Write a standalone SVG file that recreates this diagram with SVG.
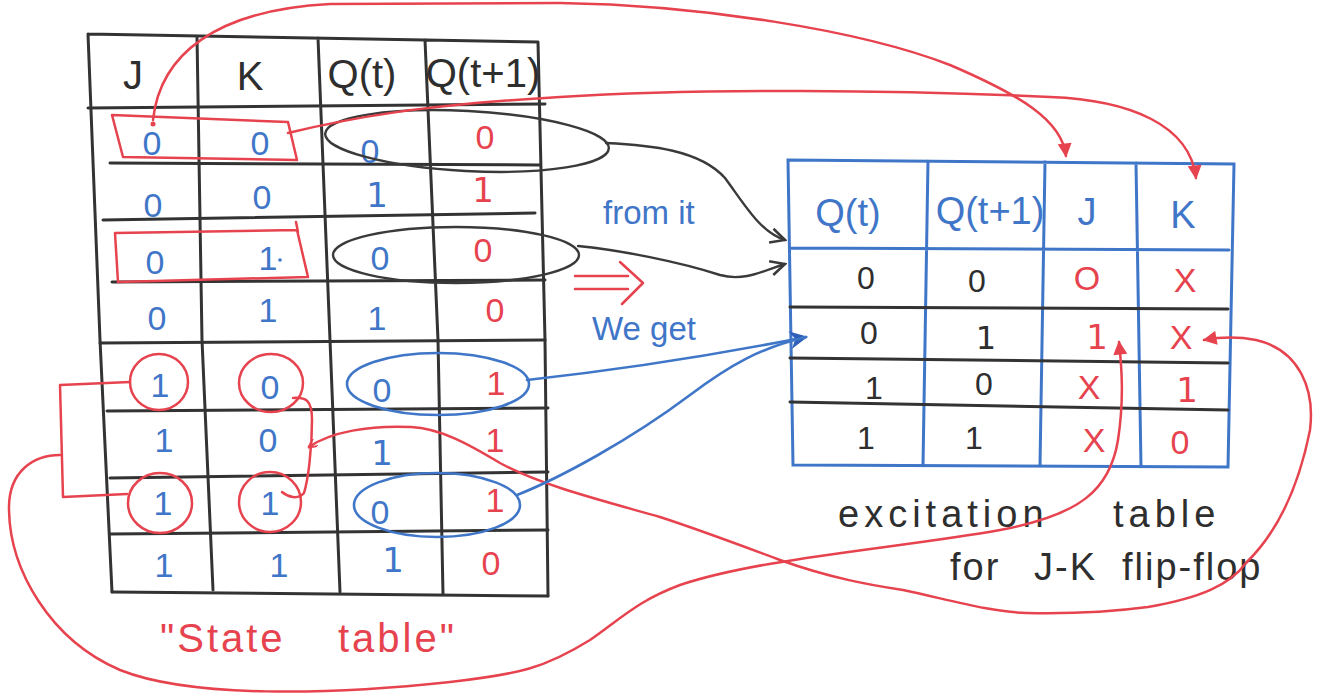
<svg xmlns="http://www.w3.org/2000/svg" width="1324" height="698" viewBox="0 0 1324 698">
  <defs>
    <style>
      .grid { fill: none; stroke: #333; stroke-width: 3; stroke-linecap: round; stroke-linejoin: round; }
      .bgrid { fill: none; stroke: #3f76c8; stroke-width: 3; stroke-linecap: round; }
      .red { fill: none; stroke: #e6434f; stroke-width: 2.5; stroke-linecap: round; stroke-linejoin: round; }
      .blue { fill: none; stroke: #3f76c8; stroke-width: 2.6; stroke-linecap: round; }
      .ink { fill: none; stroke: #3a3a3a; stroke-width: 2.4; stroke-linecap: round; }
      text { font-family: "Liberation Sans", "DejaVu Sans", sans-serif; text-anchor: middle; }
      .hd { font-size: 40px; fill: #2e2e2e; }
      .hdb { font-size: 38px; fill: #3f76c8; }
      .vb { font-size: 34px; fill: #3f76c8; }
      .vr { font-size: 34px; fill: #e6434f; }
      .vk { font-size: 32px; fill: #2e2e2e; }
      .base1 { font-family: "DejaVu Sans", sans-serif; }
      .note { font-size: 33px; fill: #3f76c8; text-anchor: start; }
      .cap { font-size: 38px; fill: #2e2e2e; text-anchor: start; letter-spacing: 5px; }
      .cap2 { font-size: 38px; fill: #2e2e2e; text-anchor: start; letter-spacing: 2px; }
      .capr { font-size: 40px; fill: #e6434f; text-anchor: start; letter-spacing: 3px; }
    </style>
    <marker id="redHead" viewBox="0 0 10 10" refX="9" refY="5" markerWidth="16" markerHeight="14" markerUnits="userSpaceOnUse" orient="auto">
      <path d="M0,0 L10,5 L0,10 Z" fill="#e6434f"/>
    </marker>
    <marker id="redTip" viewBox="0 0 10 10" refX="9" refY="5" markerWidth="10" markerHeight="9" markerUnits="userSpaceOnUse" orient="auto-start-reverse">
      <path d="M0,0 L10,5 L0,10" fill="none" stroke="#e6434f" stroke-width="2"/>
    </marker>
    <marker id="inkHead" viewBox="0 0 10 10" refX="9" refY="5" markerWidth="18" markerHeight="18" markerUnits="userSpaceOnUse" orient="auto">
      <path d="M1,1 L9,5 L1,9" fill="none" stroke="#3a3a3a" stroke-width="1.4"/>
    </marker>
    <marker id="blueHead" viewBox="0 0 10 10" refX="9" refY="5" markerWidth="24" markerHeight="18" markerUnits="userSpaceOnUse" orient="auto">
      <path d="M0,0 L10,5 L0,10 L3,5 Z" fill="#2f5fb8"/>
    </marker>
  </defs>

  <rect width="1324" height="698" fill="#ffffff"/>

  <!-- state table -->
  <g id="state-table">
    <path class="grid" d="M88,34 L538,42 M88,34 L100,340 L112,592 M197,36 L202,340 L213,590 M318,38 L330,340 L340,592 M425,40 L438,340 L443,594 M538,42 L545,340 L548,596"/>
    <path class="grid" d="M88,108 L545,104 M110,163 L540,165 M103,220 L535,213 M112,282 L545,280 M100,343 L545,340 M107,411 L548,408 M110,478 L548,472 M110,534 L548,530 M112,592 L548,596"/>
    <text class="hd" x="133" y="89">J</text>
    <text class="hd" x="250" y="90">K</text>
    <text class="hd" x="362" y="88" font-size="35">Q(t)</text>
    <text class="hd" x="483" y="87" font-size="31">Q(t+1)</text>

    <!-- rows 1-4 -->
    <text class="vb" x="152" y="155">0</text>
    <text class="vb" x="260" y="155">0</text>
    <text class="vb" x="370" y="163">0</text>
    <text class="vr" x="485" y="149">0</text>

    <text class="vb" x="153" y="217">0</text>
    <text class="vb" x="262" y="209">0</text>
    <text class="vb base1" x="377" y="207">1</text>
    <text class="vr base1" x="483" y="202">1</text>

    <text class="vb" x="155" y="274">0</text>
    <text class="vb" x="268" y="270">1</text>
    <circle cx="280" cy="260" r="1.8" fill="#3f76c8"/>
    <text class="vb" x="380" y="270">0</text>
    <text class="vr" x="483" y="262">0</text>

    <text class="vb" x="157" y="330">0</text>
    <text class="vb" x="268" y="322">1</text>
    <text class="vb" x="377" y="330">1</text>
    <text class="vr" x="495" y="322">0</text>

    <!-- rows 5-8 -->
    <text class="vb" x="160" y="397">1</text>
    <text class="vb" x="270" y="399">0</text>
    <text class="vb" x="382" y="402">0</text>
    <text class="vr" x="496" y="395">1</text>

    <text class="vb" x="164" y="452">1</text>
    <text class="vb" x="268" y="452">0</text>
    <text class="vb base1" x="382" y="465">1</text>
    <text class="vr" x="495" y="452">1</text>

    <text class="vb" x="163" y="515">1</text>
    <text class="vb" x="270" y="515">1</text>
    <text class="vb" x="380" y="524">0</text>
    <text class="vr" x="495" y="512">1</text>

    <text class="vb" x="164" y="577">1</text>
    <text class="vb" x="279" y="577">1</text>
    <text class="vb base1" x="393" y="572">1</text>
    <text class="vr" x="491" y="575">0</text>
  </g>

  <!-- markings drawn over the state table -->
  <g id="state-marks">
    <path class="red" d="M112,115 L288,122 L297,160 L123,157 Z"/>
    <circle cx="153" cy="124" r="2.5" fill="#e6434f"/>
    <path class="red" d="M115,233 L297,230 L308,277 L118,282 Z M296,222 L298,232"/>
    <ellipse class="ink" cx="467" cy="141" rx="142" ry="30" transform="rotate(3 467 141)"/>
    <ellipse class="ink" cx="456" cy="255" rx="123" ry="28"/>
    <ellipse class="red" cx="159" cy="382" rx="29" ry="28"/>
    <ellipse class="red" cx="271" cy="383" rx="32" ry="29"/>
    <ellipse class="red" cx="160" cy="503" rx="32" ry="30"/>
    <ellipse class="red" cx="270" cy="502" rx="31" ry="30"/>
    <ellipse class="blue" cx="438" cy="384" rx="91" ry="31"/>
    <ellipse class="blue" cx="437" cy="505" rx="83" ry="32"/>
  </g>

  <!-- excitation table -->
  <g id="excitation-table">
    <path class="bgrid" d="M788,160 L1234,164 L1228,467 L793,465 Z M790,248 L1229,250 M928,161 L923,466 M1045,162 L1040,466 M1136,163 L1141,467"/>
    <path class="grid" d="M790,307 L1228,309 M790,358 L1228,363 M790,402 L1228,410"/>
    <text class="hdb" x="848" y="226">Q(t)</text>
    <text class="hdb" x="990" y="224" font-size="32">Q(t+1)</text>
    <text class="hdb" x="1087" y="225">J</text>
    <text class="hdb" x="1183" y="228">K</text>

    <text class="vk" x="866" y="289">0</text>
    <text class="vk" x="977" y="292">0</text>
    <text class="vr" x="1087" y="290">O</text>
    <text class="vr" x="1185" y="292">X</text>

    <text class="vk" x="869" y="344">0</text>
    <text class="vk base1" x="986" y="349">1</text>
    <text class="vr base1" x="1097" y="349">1</text>
    <text class="vr" x="1181" y="349">X</text>

    <text class="vk" x="874" y="399">1</text>
    <text class="vk" x="984" y="395">0</text>
    <text class="vr" x="1089" y="399">X</text>
    <text class="vr base1" x="1187" y="402">1</text>

    <text class="vk" x="866" y="449">1</text>
    <text class="vk" x="974" y="449">1</text>
    <text class="vr" x="1094" y="452">X</text>
    <text class="vr" x="1180" y="454">0</text>
  </g>

  <!-- captions -->
  <g id="labels">
    <text class="note" x="603" y="224">from it</text>
    <text class="note" x="592" y="340" font-size="30">We get</text>
    <text class="cap" x="838" y="527">excitation<tspan x="1113">table</tspan></text>
    <text class="cap2" x="950" y="580">for<tspan x="1034">J-K</tspan><tspan x="1122">flip-flop</tspan></text>
    <text class="capr" x="160" y="652">"State<tspan x="338">table"</tspan></text>
  </g>

  <!-- connectors -->
  <g id="connectors">
    <!-- implication arrow -->
    <path class="red" d="M575,276 L628,276 M575,289 L628,289 M620,262 L643,283 L622,304"/>

    <!-- J column of row 1 to J header -->
    <path class="red" d="M153,120 C160,55 215,10 330,4 L560,3 C700,5 860,30 950,65 C1020,95 1062,120 1066,156" marker-end="url(#redHead)"/>
    <!-- K column of row 1 to K header -->
    <path class="red" d="M288,133 C350,118 420,105 560,97 C700,88 900,90 1050,97 C1130,100 1190,125 1196,178" marker-end="url(#redHead)"/>

    <!-- J = 1 rows bracket and loop to J entry -->
    <path class="red" d="M130,382 L60,385 L63,497 L127,494"/>
    <path class="red" d="M60,455 C35,455 8,470 9,510 C10,570 50,640 120,670 C190,698 330,695 450,682 C520,674 545,668 590,640 C625,615 640,600 680,585 C760,558 900,548 1000,530 C1080,515 1110,490 1118,440 C1124,400 1122,370 1119,342" marker-end="url(#redHead)"/>

    <!-- K bracket and loop to K entry -->
    <path class="red" d="M293,398 C306,397 312,400 312,420 C312,450 308,480 304,493 C298,500 288,497 282,492"/>
    <path class="red" d="M309,447 C330,432 370,425 411,427 C440,428 470,445 500,463 C540,485 600,500 660,517 C700,530 740,545 780,560 C830,578 870,585 903,590 C950,600 990,612 1026,613 C1070,614 1110,612 1148,607 C1200,598 1230,585 1246,563 C1280,530 1300,480 1310,430 C1315,390 1300,350 1256,340 C1235,336 1215,338 1204,340" marker-start="url(#redTip)" marker-end="url(#redHead)"/>

    <!-- circled rows to excitation table -->
    <path class="ink" d="M606,143 C650,145 700,150 725,178 C745,205 760,232 785,240" marker-end="url(#inkHead)"/>
    <path class="ink" d="M578,246 C620,250 680,262 720,275 C745,282 765,270 785,264" marker-end="url(#inkHead)"/>
    <path class="blue" d="M527,380 C600,372 700,358 806,337" marker-end="url(#blueHead)"/>
    <path class="blue" d="M517,495 C560,478 630,440 690,395 C730,365 760,348 806,337"/>
  </g>
</svg>
